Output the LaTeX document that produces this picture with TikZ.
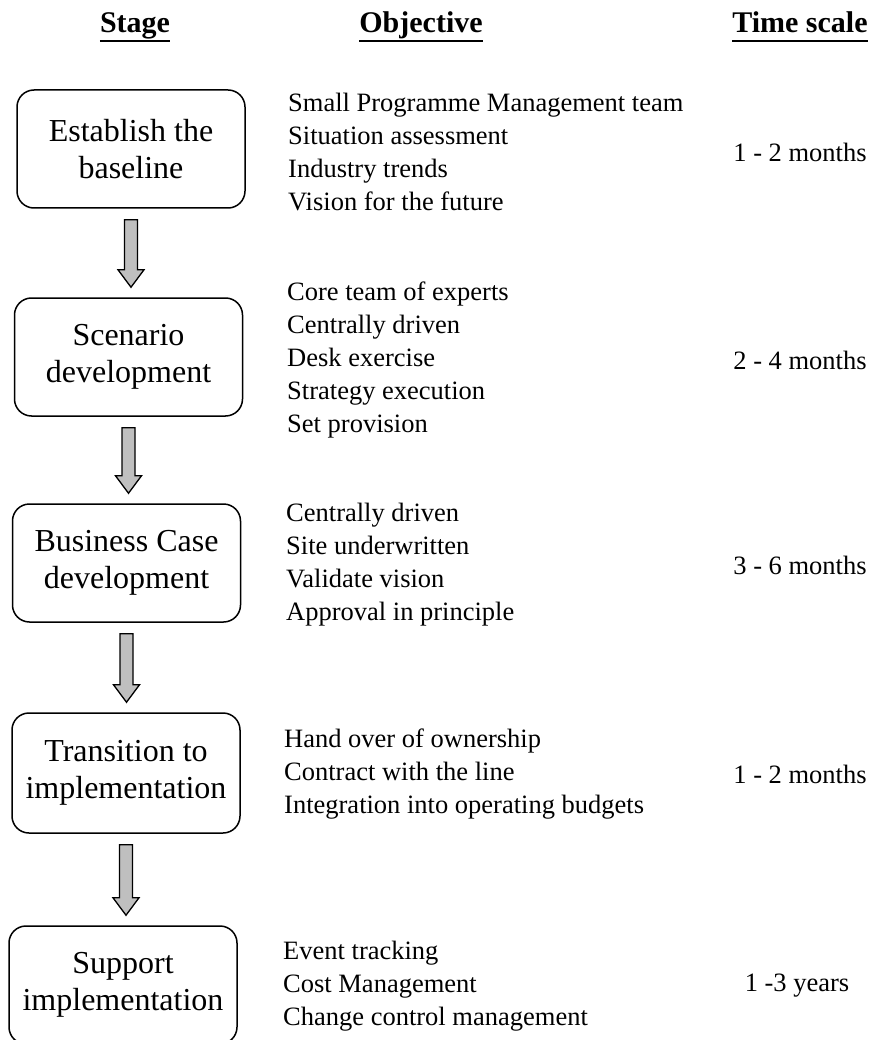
\documentclass[tikz,border=0pt]{standalone}
\usepackage{fontspec}
\setmainfont{Liberation Serif}
\usetikzlibrary{calc}

% Block arrow from the bottom of one stage box to the top of the next
\newcommand\stagearrow[2]{%
  \draw[flowarrow] let \p1=($(#1.south)+(0,-11)$), \p2=($(#2.north)+(0,10)$) in
    (\x1-6.5pt,\y1) -- (\x1+6.5pt,\y1) -- (\x1+6.5pt,\y2+17.5pt) -- (\x1+13pt,\y2+17.5pt)
    -- (\x1,\y2) -- (\x1-13pt,\y2+17.5pt) -- (\x1-6.5pt,\y2+17.5pt) -- cycle;}

\begin{document}
\begin{tikzpicture}[x=1pt,y=1pt,
  stagebox/.style={draw, line width=1.5pt, rounded corners=17pt, minimum width=228pt,
    minimum height=118pt, align=center, inner sep=0pt, font=\fontsize{32}{37.5}\selectfont},
  header/.style={font=\fontsize{30}{34}\selectfont\bfseries, inner sep=0pt, anchor=base},
  objlist/.style={font=\fontsize{26.5}{33}\selectfont, align=left, anchor=west, inner sep=0pt},
  timetext/.style={font=\fontsize{26.5}{33}\selectfont, inner sep=0pt},
  flowarrow/.style={draw, line width=1.3pt, fill=black!25, line join=miter},
  headrule/.style={line width=1.8pt}
]
\useasboundingbox (0,0) rectangle (875,-1040);
\fill[white] (0,0) rectangle (875,-1040);
\clip (0,0) rectangle (875,-1040);

% Column headers
\node[header] (hstage) at (135,-33) {Stage};
\node[header] (hobj)   at (421,-33) {Objective};
\node[header] (htime)  at (800,-33) {Time scale};
\foreach \h in {hstage,hobj,htime}
  \draw[headrule] ($(\h.base west)+(0,-8)$) -- ($(\h.base east)+(0,-8)$);

% Stages
\node[stagebox] (s1) at (131,-149)   {Establish the\\baseline};
\node[stagebox] (s2) at (128.5,-357) {Scenario\\development};
\node[stagebox] (s3) at (126.5,-563) {Business Case\\development};
\node[stagebox, minimum height=120pt] (s4) at (126,-773) {Transition to\\implementation};
\node[stagebox] (s5) at (123,-985)   {Support\\implementation};

\stagearrow{s1}{s2}
\stagearrow{s2}{s3}
\stagearrow{s3}{s4}
\stagearrow{s4}{s5}

% Objectives
\node[objlist] (o1) at (288,-152) {Small Programme Management team\\Situation assessment\\Industry trends\\Vision for the future};
\node[objlist] (o2) at (287,-360) {Core team of experts\\Centrally driven\\Desk exercise\\Strategy execution\\Set provision};
\node[objlist] (o3) at (286,-565) {Centrally driven\\Site underwritten\\Validate vision\\Approval in principle};
\node[objlist] (o4) at (284,-774) {Hand over of ownership\\Contract with the line\\Integration into operating budgets};
\node[objlist] (o5) at (283,-986) {Event tracking\\Cost Management\\Change control management};

% Time scales
\node[timetext] (t1) at (800,-152) {1 - 2 months};
\node[timetext] (t2) at (800,-360) {2 - 4 months};
\node[timetext] (t3) at (800,-565) {3 - 6 months};
\node[timetext] (t4) at (800,-774) {1 - 2 months};
\node[timetext] (t5) at (797,-986) {1 -3 years};
\end{tikzpicture}
\end{document}
